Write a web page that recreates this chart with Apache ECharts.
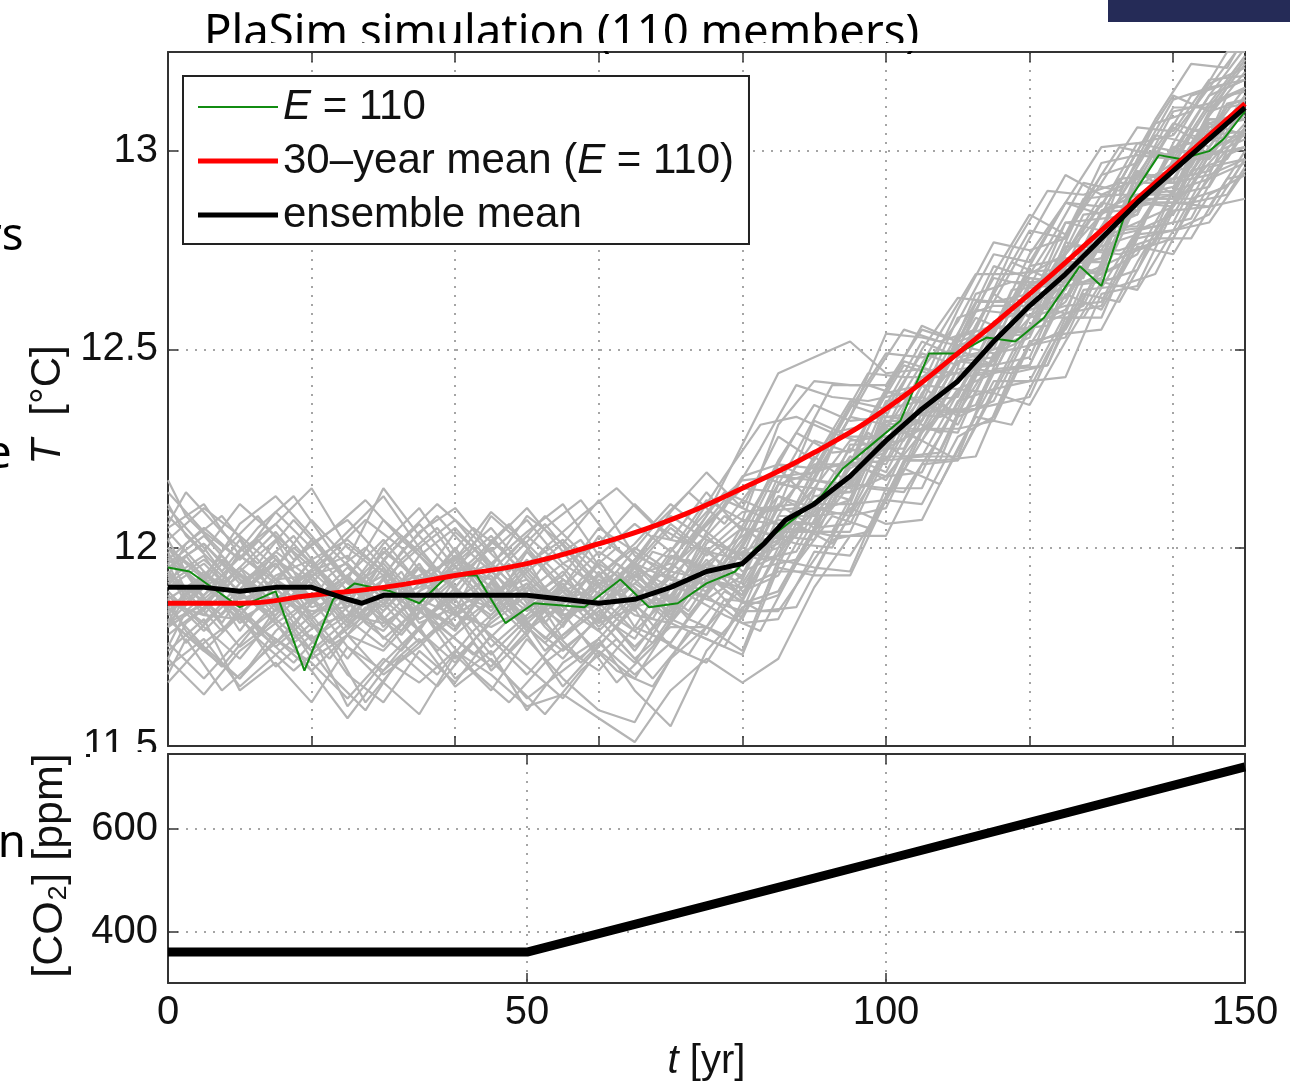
<!DOCTYPE html>
<html>
<head>
<meta charset="utf-8">
<script src="https://cdn.jsdelivr.net/npm/echarts@6/dist/echarts.min.js"></script>
<style>
html, body { margin: 0; padding: 0; background: #fff; }
#chart { width: 1290px; height: 1083px; }
</style>
</head>
<body>
<div id="chart"></div>
<script>
// time axes of the ensemble members (years); the second set is stored half a step shifted
var years = [0, 5, 10, 15, 20, 25, 30, 35, 40, 45, 50, 55, 60, 65, 70, 75, 80, 85, 90, 95, 100, 105, 110, 115, 120, 125, 130, 135, 140, 145, 150];
var yearsB = [0, 2.5, 7.5, 12.5, 17.5, 22.5, 27.5, 32.5, 37.5, 42.5, 47.5, 52.5, 57.5, 62.5, 67.5, 72.5, 77.5, 82.5, 87.5, 92.5, 97.5, 102.5, 107.5, 112.5, 117.5, 122.5, 127.5, 132.5, 137.5, 142.5, 147.5, 150];

// grey ensemble members, T [°C] at `years`
var members = [
  [11.95,12.01,11.92,11.85,11.97,12.02,11.94,11.86,11.98,11.92,11.82,11.90,11.99,11.93,11.87,12.02,11.98,12.01,12.18,12.33,12.31,12.32,12.51,12.53,12.54,12.74,12.89,12.89,12.90,13.09,13.20],
  [11.82,11.74,11.83,11.77,11.69,11.78,11.74,11.84,11.77,11.70,11.81,11.74,11.82,11.72,11.80,11.80,11.90,11.94,11.94,12.11,12.12,12.30,12.30,12.32,12.51,12.55,12.71,12.75,12.78,12.94,12.98],
  [12.08,11.99,12.11,12.03,11.95,12.04,12.13,12.00,12.07,11.96,12.04,12.11,11.98,12.06,11.99,12.09,12.17,12.18,12.19,12.35,12.49,12.48,12.50,12.69,12.84,12.79,12.92,13.06,13.05,13.18,13.19],
  [11.87,11.93,11.79,11.91,11.83,11.92,11.86,11.96,11.83,11.89,11.79,11.90,11.83,11.94,11.83,11.96,11.93,12.13,12.10,12.23,12.19,12.36,12.47,12.48,12.63,12.63,12.79,12.85,13.00,12.99,13.14],
  [11.70,11.77,11.65,11.73,11.81,11.68,11.61,11.74,11.66,11.78,11.70,11.62,11.74,11.67,11.81,11.77,11.73,11.95,11.93,11.93,12.12,12.27,12.22,12.39,12.36,12.52,12.67,12.65,12.80,12.84,12.98],
  [12.00,11.87,11.95,12.04,11.93,11.82,11.97,12.06,11.95,11.85,11.99,11.89,11.81,11.96,12.06,11.99,11.92,12.16,12.15,12.12,12.36,12.52,12.48,12.50,12.71,12.73,12.72,12.94,13.07,13.04,13.16],
  [11.92,11.98,11.85,11.76,11.86,11.93,11.80,11.89,12.00,11.87,11.78,11.92,11.85,11.74,11.86,11.97,11.87,12.08,12.23,12.16,12.15,12.34,12.50,12.46,12.62,12.59,12.81,12.95,12.92,12.94,13.13],
  [12.04,11.94,11.83,11.92,12.01,12.07,11.97,11.87,11.95,12.03,11.92,11.82,11.93,12.01,12.11,12.04,11.97,12.02,12.20,12.36,12.33,12.32,12.52,12.71,12.68,12.67,12.84,13.00,12.99,13.14,13.26],
  [11.78,11.85,11.95,11.82,11.74,11.82,11.92,11.79,11.71,11.82,11.91,11.77,11.85,11.95,11.82,11.78,11.92,12.11,12.05,12.06,12.24,12.41,12.33,12.37,12.55,12.72,12.69,12.74,12.90,13.07,13.04],
  [11.97,12.05,11.97,12.09,12.00,11.89,12.01,12.10,11.97,12.05,11.94,12.01,12.12,11.98,11.94,12.06,12.15,12.14,12.27,12.24,12.40,12.56,12.52,12.55,12.74,12.87,12.86,13.02,13.00,13.14,13.18],
  [11.85,11.75,11.67,11.79,11.87,11.75,11.69,11.80,11.89,11.77,11.68,11.78,11.84,11.75,11.84,11.93,11.86,11.89,12.05,12.21,12.18,12.19,12.37,12.40,12.58,12.61,12.62,12.80,12.84,12.99,13.01],
  [11.90,11.96,11.87,11.99,11.92,11.81,11.92,12.00,11.89,11.83,11.94,11.84,11.96,11.90,11.82,11.99,12.07,12.06,12.06,12.26,12.26,12.45,12.44,12.47,12.66,12.67,12.85,12.87,12.87,13.06,13.10],
  [12.14,12.04,11.97,12.06,12.15,12.00,11.93,12.04,12.10,11.99,12.07,11.96,12.01,12.11,12.02,12.14,12.04,12.22,12.36,12.32,12.33,12.50,12.63,12.62,12.78,12.94,12.89,12.93,13.10,13.12,13.24],
  [11.74,11.82,11.64,11.71,11.61,11.75,11.66,11.58,11.73,11.64,11.77,11.67,11.59,11.56,11.72,11.80,11.74,11.97,11.95,11.94,12.15,12.15,12.34,12.36,12.38,12.58,12.58,12.79,12.80,12.82,12.95],
  [11.93,11.83,11.94,12.02,11.86,11.95,11.87,11.79,11.92,12.00,11.86,11.94,11.82,11.91,12.00,11.90,12.02,12.20,12.11,12.11,12.32,12.32,12.53,12.56,12.55,12.77,12.75,12.91,13.06,13.01,13.13],
  [11.81,11.90,11.84,11.75,11.83,11.89,11.77,11.85,11.72,11.81,11.88,11.75,11.69,11.80,11.76,11.89,11.99,11.97,12.10,12.08,12.10,12.29,12.43,12.44,12.46,12.66,12.67,12.70,12.90,12.93,12.97],
  [12.02,12.10,12.03,11.95,12.07,11.97,12.15,12.03,11.93,12.08,12.00,11.90,12.03,11.96,12.09,12.19,12.10,12.28,12.22,12.37,12.35,12.49,12.46,12.64,12.80,12.78,12.94,12.97,13.13,13.16,13.28],
  [11.88,11.79,11.88,11.96,11.83,11.72,11.84,11.93,11.80,11.87,11.97,11.82,11.88,11.79,11.88,12.00,11.89,11.93,12.09,12.23,12.21,12.37,12.31,12.48,12.67,12.66,12.68,12.87,12.89,13.08,13.08],
  [11.98,11.90,12.02,11.87,11.94,11.98,11.88,11.95,11.84,12.02,11.93,11.84,11.97,11.89,11.84,12.01,12.09,12.10,12.32,12.28,12.28,12.30,12.48,12.64,12.58,12.74,12.87,12.85,13.01,12.98,13.12],
  [11.66,11.76,11.83,11.70,11.78,11.60,11.71,11.80,11.67,11.74,11.59,11.71,11.77,11.64,11.55,11.74,11.84,11.84,11.97,12.10,12.06,12.07,12.25,12.42,12.42,12.43,12.64,12.66,12.85,12.86,12.88],
  [12.05,12.11,11.98,11.91,12.02,11.91,11.85,11.98,12.05,11.95,12.08,12.01,11.91,11.86,11.99,12.12,12.07,12.31,12.42,12.41,12.41,12.55,12.52,12.68,12.66,12.82,12.80,12.96,13.11,13.11,13.23],
  [11.84,11.92,11.81,11.88,11.77,11.83,11.95,11.82,11.87,11.75,11.83,11.91,11.80,11.89,11.81,11.92,11.82,12.00,12.15,12.14,12.31,12.27,12.40,12.39,12.56,12.60,12.78,12.80,12.82,12.99,13.03],
  [11.94,11.84,11.99,12.06,11.96,11.85,12.00,11.91,12.04,11.96,11.87,11.93,12.05,11.99,11.92,11.89,12.04,12.21,12.17,12.16,12.37,12.38,12.58,12.61,12.61,12.82,12.83,12.84,13.02,13.17,13.21],
  [11.76,11.67,11.77,11.86,11.72,11.78,11.68,11.75,11.84,11.69,11.78,11.65,11.75,11.86,11.75,11.71,11.85,11.88,12.04,12.04,12.23,12.23,12.23,12.45,12.46,12.64,12.60,12.76,12.74,12.89,12.94],
  [12.10,12.00,11.88,11.97,11.91,12.01,11.94,11.84,11.97,12.09,12.01,11.92,11.85,11.95,12.05,11.98,12.05,12.03,12.02,12.21,12.39,12.41,12.60,12.77,12.75,12.78,12.97,12.99,12.98,13.12,13.16],
  [11.89,11.80,11.72,11.83,11.93,11.82,11.75,11.86,11.79,11.91,11.80,11.72,11.83,11.77,11.91,11.87,11.84,12.05,12.04,12.22,12.17,12.32,12.47,12.46,12.48,12.68,12.70,12.89,12.89,12.91,13.06],
  [12.00,11.92,12.06,12.13,12.03,11.92,12.07,11.99,11.90,12.01,12.10,11.99,11.88,11.97,12.08,12.02,11.98,12.18,12.17,12.33,12.54,12.53,12.51,12.54,12.71,12.87,12.84,13.00,13.14,13.10,13.22],
  [11.72,11.63,11.74,11.81,11.69,11.57,11.69,11.77,11.65,11.72,11.62,11.69,11.76,11.68,11.76,11.88,11.81,11.82,11.99,11.98,12.12,12.11,12.28,12.33,12.52,12.54,12.55,12.72,12.87,12.86,13.00],
  [11.96,12.03,11.93,11.86,11.97,11.86,11.99,11.92,11.83,11.94,12.03,11.95,11.85,11.93,11.86,12.04,12.18,12.21,12.20,12.21,12.22,12.23,12.39,12.56,12.54,12.71,12.73,12.94,12.93,13.07,13.10],
  [11.80,11.86,11.75,11.82,11.91,11.78,11.86,11.76,11.84,11.73,11.82,11.88,11.79,11.71,11.85,11.93,11.88,12.08,12.08,12.09,12.30,12.30,12.29,12.49,12.51,12.53,12.72,12.87,12.86,13.00,13.05],
  [11.95,12.01,11.91,11.98,11.86,11.93,12.02,11.91,11.98,11.86,11.96,12.02,11.93,12.00,11.94,12.08,12.26,12.44,12.48,12.52,12.44,12.45,12.57,12.74,12.72,12.87,13.01,13.02,13.04,13.16,13.18],
  [11.82,11.74,11.67,11.77,11.71,11.62,11.72,11.66,11.74,11.68,11.60,11.63,11.57,11.51,11.64,11.72,11.66,11.72,11.90,12.03,12.03,12.21,12.22,12.40,12.42,12.59,12.61,12.78,12.80,12.96,12.98],
  [11.94,11.86,11.95,11.88,11.82,11.89,11.96,11.86,11.80,11.91,11.84,11.92,11.85,11.95,11.90,11.88,11.99,12.03,12.17,12.15,12.33,12.34,12.35,12.54,12.68,12.66,12.81,12.81,12.95,13.08,13.08],
  [11.85,11.91,11.83,11.93,11.97,11.84,11.79,11.89,11.94,11.84,11.95,11.85,11.79,11.88,11.95,12.03,11.94,11.98,12.11,12.25,12.22,12.39,12.51,12.49,12.53,12.72,12.72,12.88,12.88,13.01,13.14],
  [11.91,11.97,11.89,11.81,11.87,11.93,11.84,11.95,11.90,11.82,11.89,11.96,11.90,11.83,11.81,11.96,12.03,12.07,12.06,12.17,12.32,12.27,12.43,12.62,12.64,12.65,12.85,12.89,12.91,13.04,13.05],
  [11.81,11.86,11.93,11.84,11.91,11.80,11.89,11.84,11.92,11.96,11.87,11.81,11.92,11.86,11.93,11.87,11.93,12.10,12.21,12.21,12.24,12.41,12.40,12.44,12.61,12.76,12.76,12.79,12.98,12.98,13.11],
  [11.97,11.90,11.85,11.92,11.86,11.92,11.82,11.91,11.87,11.93,11.81,11.89,11.93,11.84,11.98,11.95,11.91,12.05,12.15,12.27,12.28,12.32,12.47,12.50,12.54,12.70,12.69,12.92,12.92,13.10,13.13],
  [11.88,11.81,11.91,11.96,11.85,11.88,11.93,11.81,11.85,11.89,11.92,11.83,11.86,11.91,11.85,11.99,11.97,12.00,12.09,12.12,12.35,12.37,12.38,12.57,12.60,12.63,12.80,12.84,13.01,13.03,13.04],
  [12.00,11.93,11.88,11.83,11.94,11.86,11.90,11.93,11.97,11.86,11.91,11.82,11.88,11.96,11.92,11.91,12.02,12.13,12.08,12.20,12.25,12.30,12.45,12.46,12.66,12.71,12.73,12.95,12.89,13.05,13.09],
  [11.83,11.94,11.87,11.90,11.80,11.83,11.81,11.87,11.83,11.80,11.85,11.90,11.81,11.85,11.88,11.96,11.88,12.02,12.13,12.14,12.18,12.29,12.39,12.53,12.55,12.62,12.78,12.82,12.86,12.97,13.07],
  [11.92,11.88,11.98,11.92,11.93,11.96,11.87,11.90,11.95,11.92,11.79,11.86,11.91,11.93,11.96,11.90,12.00,12.16,12.19,12.22,12.30,12.43,12.49,12.56,12.69,12.74,12.84,12.91,12.97,13.11,13.16],
  [11.86,11.83,11.82,11.87,11.84,11.85,11.92,11.82,11.88,11.85,11.90,11.80,11.94,11.80,11.94,11.92,11.90,12.04,12.04,12.16,12.26,12.38,12.34,12.48,12.58,12.67,12.71,12.87,12.93,12.95,13.06]
];

// more grey members, T [°C] at `yearsB`
var membersB = [
  [12.02,11.94,11.81,11.95,12.03,11.91,11.82,11.97,12.05,11.93,11.84,11.96,12.02,11.89,11.82,11.98,12.08,12.02,12.03,12.25,12.41,12.38,12.35,12.56,12.72,12.68,12.68,12.92,12.92,12.94,13.14,13.15],
  [11.75,11.84,11.92,11.79,11.71,11.81,11.89,11.76,11.68,11.79,11.87,11.74,11.82,11.91,11.78,11.73,11.87,11.86,12.05,12.03,12.03,12.22,12.22,12.44,12.45,12.46,12.67,12.68,12.88,12.88,12.91,12.98],
  [11.93,12.01,12.08,11.97,11.87,11.98,12.07,12.00,11.89,11.97,12.06,11.94,11.84,11.94,12.05,12.14,12.06,12.18,12.15,12.29,12.26,12.27,12.46,12.62,12.62,12.76,12.92,12.90,13.04,13.02,13.16,13.18],
  [11.84,11.76,11.85,11.94,11.81,11.72,11.84,11.94,11.79,11.86,11.96,11.81,11.72,11.82,11.92,11.82,11.78,11.95,11.97,12.13,12.29,12.23,12.24,12.43,12.60,12.57,12.61,12.80,12.81,12.83,13.00,13.01],
  [12.11,12.03,11.94,12.05,12.13,12.00,11.91,12.02,12.11,12.03,11.94,12.05,12.12,12.00,11.92,12.02,12.14,12.10,12.11,12.28,12.44,12.43,12.43,12.64,12.67,12.67,12.87,13.01,12.99,13.14,13.17,13.23],
  [11.68,11.77,11.64,11.72,11.80,11.68,11.59,11.73,11.65,11.76,11.67,11.58,11.69,11.77,11.67,11.78,11.89,11.84,11.85,12.02,12.04,12.22,12.22,12.23,12.44,12.46,12.65,12.66,12.69,12.87,12.89,12.96],
  [11.90,11.98,11.86,11.78,11.91,11.98,11.86,11.79,11.92,12.00,11.89,11.81,11.92,12.00,11.91,11.84,11.98,12.13,12.29,12.24,12.25,12.25,12.43,12.58,12.54,12.70,12.69,12.84,13.00,12.97,13.11,13.12],
  [11.99,11.89,11.79,11.90,12.00,11.92,11.81,11.74,11.85,11.95,11.84,11.76,11.85,11.96,11.88,11.97,11.90,12.04,12.01,12.00,12.17,12.33,12.29,12.44,12.63,12.60,12.75,12.74,12.77,12.95,13.07,13.08],
  [11.80,11.88,11.98,11.86,11.76,11.83,11.93,11.84,11.74,11.82,11.92,11.80,11.71,11.80,11.90,11.83,11.94,12.08,12.04,12.04,12.21,12.39,12.34,12.35,12.53,12.69,12.67,12.71,12.88,13.04,13.02,13.04],
  [12.06,12.14,12.04,11.96,12.07,11.97,11.86,11.99,12.08,11.98,11.90,12.00,12.08,12.15,12.06,12.01,12.10,12.25,12.41,12.38,12.37,12.39,12.54,12.69,12.69,12.70,12.88,12.89,13.07,13.10,13.25,13.25],
  [11.87,11.79,11.70,11.81,11.88,11.76,11.83,11.91,11.81,11.73,11.82,11.89,11.78,11.69,11.65,11.79,11.75,11.91,12.06,12.01,12.15,12.14,12.28,12.45,12.44,12.58,12.58,12.73,12.87,12.87,12.99,13.01],
  [11.96,11.87,11.93,12.02,11.92,11.83,11.94,12.03,11.93,11.86,11.97,12.06,11.95,11.86,11.99,11.96,11.92,12.09,12.10,12.10,12.32,12.47,12.44,12.60,12.59,12.61,12.80,12.93,12.94,12.96,13.12,13.13],
  [11.72,11.81,11.88,11.77,11.69,11.77,11.61,11.72,11.80,11.69,11.61,11.71,11.78,11.66,11.75,11.88,11.83,11.79,11.96,12.08,12.05,12.20,12.16,12.33,12.31,12.49,12.64,12.62,12.78,12.78,12.93,12.94],
  [12.17,12.08,11.99,12.08,11.97,12.04,12.12,12.02,11.94,12.05,11.98,12.08,11.99,11.91,12.03,12.01,12.12,12.08,12.24,12.41,12.41,12.55,12.52,12.55,12.75,12.90,12.89,12.92,13.08,13.22,13.21,13.29],
  [11.81,11.90,11.83,11.93,11.86,11.76,11.85,11.78,11.89,11.82,11.74,11.84,11.90,11.82,11.76,11.89,12.00,11.97,11.99,12.15,12.16,12.34,12.33,12.36,12.55,12.56,12.75,12.75,12.78,12.95,12.98,13.05],
  [11.94,11.86,11.97,11.90,11.80,11.93,12.00,11.90,11.82,11.94,11.86,11.77,11.87,11.94,11.86,12.04,12.18,12.31,12.33,12.29,12.31,12.46,12.43,12.45,12.65,12.66,12.84,12.85,12.87,13.05,13.07,13.14]
];

// single member E = 110 (green)
var greenYears = [0, 3, 10, 15, 19, 23, 26, 31, 35, 39, 43, 47, 51, 58, 63, 67, 71, 75, 79, 82, 87, 91, 94, 98, 102, 106, 110, 114, 118, 122, 127, 130, 134, 138, 141, 145, 147, 150];
var greenTemp = [11.95, 11.94, 11.85, 11.89, 11.69, 11.87, 11.91, 11.89, 11.86, 11.93, 11.93, 11.81, 11.86, 11.85, 11.92, 11.85, 11.86, 11.91, 11.94, 12.00, 12.07, 12.13, 12.20, 12.26, 12.32, 12.49, 12.49, 12.53, 12.52, 12.58, 12.71, 12.66, 12.88, 12.99, 12.98, 13.00, 13.03, 13.10];

// 30-year mean of that member (red)
var redYears = [0, 10, 20, 30, 40, 50, 60, 70, 80, 90, 100, 110, 120, 130, 140, 150];
var redTemp = [11.86, 11.86, 11.88, 11.90, 11.93, 11.96, 12.01, 12.07, 12.15, 12.24, 12.35, 12.49, 12.64, 12.80, 12.96, 13.12];

// ensemble mean (black)
var meanYears = [0, 5, 10, 15, 20, 25, 27, 30, 35, 40, 45, 50, 55, 60, 65, 70, 75, 80, 83, 86, 90, 95, 100, 105, 110, 115, 120, 125, 130, 135, 140, 145, 150];
var meanTemp = [11.90, 11.90, 11.89, 11.90, 11.90, 11.87, 11.86, 11.88, 11.88, 11.88, 11.88, 11.88, 11.87, 11.86, 11.87, 11.90, 11.94, 11.96, 12.01, 12.07, 12.11, 12.18, 12.27, 12.35, 12.42, 12.52, 12.61, 12.69, 12.78, 12.87, 12.95, 13.03, 13.11];

// CO2 forcing
var co2Years = [0, 10, 20, 30, 40, 50, 60, 70, 80, 90, 100, 110, 120, 130, 140, 150];
var co2 = [360, 360, 360, 360, 360, 360, 396, 432, 468, 504, 540, 576, 612, 648, 684, 720];

var co2Ticks = [400, 600];

function pairs(xs, ys) {
  var out = [];
  for (var i = 0; i < xs.length; i++) out.push([xs[i], ys[i]]);
  return out;
}

var font = '"Liberation Sans", Arial, sans-serif';
var slideFont = '45.5px "Noto Sans"';
var axisColor = '#333';
var dots = { color: '#888', width: 1.5, type: [2, 7] };

function boxAxis(o) {
  var a = {
    type: 'value',
    axisLine: { show: true, onZero: false, lineStyle: { color: axisColor, width: 2 } },
    axisTick: { show: true, inside: true, length: 10, lineStyle: { color: axisColor, width: 1.5 } },
    axisLabel: { show: false },
    splitLine: { show: false }
  };
  for (var k in o) a[k] = o[k];
  return a;
}

var label = { show: true, fontSize: 40, fontFamily: font, color: '#111', margin: 10 };

var series = [];
function addGrey(xs, list) {
  for (var m = 0; m < list.length; m++) {
    series.push({
      name: 'member', type: 'line', xAxisIndex: 0, yAxisIndex: 0,
      data: pairs(xs, list[m]), symbol: 'none', silent: true, z: 2,
      lineStyle: { color: '#b4b4b4', width: 2.2 }
    });
  }
}
addGrey(years, members);
addGrey(yearsB, membersB);

series.push({
  name: 'E = 110', type: 'line', xAxisIndex: 0, yAxisIndex: 0,
  data: pairs(greenYears, greenTemp), symbol: 'none', z: 3,
  lineStyle: { color: '#118c11', width: 2 }, itemStyle: { color: '#118c11' }
});
series.push({
  name: '30–year mean (E = 110)', type: 'line', xAxisIndex: 0, yAxisIndex: 0,
  data: pairs(redYears, redTemp), symbol: 'none', smooth: true, z: 4,
  lineStyle: { color: '#ff0000', width: 5 }, itemStyle: { color: '#ff0000' }
});
series.push({
  name: 'ensemble mean', type: 'line', xAxisIndex: 0, yAxisIndex: 0,
  data: pairs(meanYears, meanTemp), symbol: 'none', z: 5,
  lineStyle: { color: '#000', width: 5 }, itemStyle: { color: '#000' }
});
series.push({
  name: 'CO2', type: 'line', xAxisIndex: 2, yAxisIndex: 2,
  data: pairs(co2Years, co2), symbol: 'none', z: 3,
  lineStyle: { color: '#000', width: 9 }
});

var thinIcon = 'path://M0,0M80,14M0,6H80V8H0Z';
var thickIcon = 'path://M0,0M80,14M0,4.5H80V9.5H0Z';

var chart = echarts.init(document.getElementById('chart'));
chart.setOption({
  animation: false,
  backgroundColor: '#fff',
  grid: [
    { left: 168, top: 52, width: 1077, height: 694 },
    { left: 168, top: 754, width: 1077, height: 231 }
  ],
  legend: {
    orient: 'vertical', left: 183, top: 76, z: 10,
    padding: [10, 15, 8, 15], itemGap: 12, itemWidth: 80, itemHeight: 14,
    backgroundColor: '#fff', borderColor: '#222', borderWidth: 2,
    itemStyle: { borderWidth: 0 },
    data: [
      { name: 'E = 110', icon: thinIcon },
      { name: '30–year mean (E = 110)', icon: thickIcon },
      { name: 'ensemble mean', icon: thickIcon }
    ],
    formatter: function (name) {
      if (name === 'E = 110') return '{i|E} = 110';
      if (name === '30–year mean (E = 110)') return '30–year mean ({i|E} = 110)';
      return name;
    },
    textStyle: {
      fontSize: 42, lineHeight: 40, fontFamily: font, color: '#111',
      rich: { i: { fontStyle: 'italic', fontSize: 42, lineHeight: 40, fontFamily: font, color: '#111' } }
    }
  },
  xAxis: [
    boxAxis({ gridIndex: 0, position: 'bottom', min: 0, max: 150, interval: 20,
      splitLine: { show: true, lineStyle: dots } }),
    boxAxis({ gridIndex: 0, position: 'top', min: 0, max: 150, interval: 20 }),
    boxAxis({ gridIndex: 1, position: 'bottom', min: 0, max: 150, interval: 50,
      axisLabel: label, splitLine: { show: true, lineStyle: dots },
      name: '{i|t} [yr]', nameLocation: 'middle', nameGap: 59,
      nameTextStyle: { fontSize: 40, fontFamily: font, color: '#111',
        rich: { i: { fontStyle: 'italic', fontSize: 40, fontFamily: font, color: '#111' } } } }),
    boxAxis({ gridIndex: 1, position: 'top', min: 0, max: 150, interval: 50 })
  ],
  yAxis: [
    boxAxis({ gridIndex: 0, position: 'left', min: 11.5, max: 13.25, interval: 0.5,
      axisLabel: { show: true, fontSize: 40, fontFamily: font, color: '#111', margin: 10, showMaxLabel: false },
      splitLine: { show: true, lineStyle: dots },
      name: '{i|T}  [°C]', nameLocation: 'middle', nameGap: 82, nameRotate: 90,
      nameTextStyle: { fontSize: 42, fontFamily: font, color: '#111', padding: [0, 12, 0, 0],
        rich: { i: { fontStyle: 'italic', fontSize: 42, fontFamily: font, color: '#111' } } } }),
    boxAxis({ gridIndex: 0, position: 'right', min: 11.5, max: 13.25, interval: 0.5 }),
    boxAxis({ gridIndex: 1, position: 'left', min: 300, max: 745, z: 3,
      axisTick: { show: true, inside: true, length: 10, customValues: co2Ticks, lineStyle: { color: axisColor, width: 1.5 } },
      axisLabel: { show: true, fontSize: 40, fontFamily: font, color: '#111', margin: 10, customValues: co2Ticks },
      splitLine: { show: true, lineStyle: dots },
      name: '[CO₂] [ppm]', nameLocation: 'middle', nameGap: 96, nameRotate: 90,
      nameTextStyle: { fontSize: 43, fontFamily: font, color: '#111', padding: [0, 10, 0, 16] } }),
    boxAxis({ gridIndex: 1, position: 'right', min: 300, max: 745,
      axisTick: { show: true, inside: true, length: 10, customValues: co2Ticks, lineStyle: { color: axisColor, width: 1.5 } } })
  ],
  graphic: { elements: [
    { type: 'text', left: 204, top: 11, z: 1,
      style: { text: 'PlaSim simulation (110 members)', font: slideFont, fill: '#000' } },
    { type: 'rect', left: 180, top: 43, z: 2, shape: { width: 760, height: 8 }, style: { fill: '#fff' } },
    { type: 'rect', left: 1108, top: 0, z: 2, shape: { width: 182, height: 22 }, style: { fill: '#252b57' } },
    { type: 'text', left: -17, top: 214, style: { text: 'rs', font: slideFont, fill: '#000' } },
    { type: 'text', left: -14, top: 432, style: { text: 'e', font: slideFont, fill: '#000' } },
    { type: 'text', left: -28, top: 821, style: { text: 'en', font: slideFont, fill: '#000' } },
    { type: 'rect', left: 90, top: 752, z: 100, shape: { width: 76, height: 30 }, style: { fill: '#fff' } }
  ] },
  series: series
});
</script>
</body>
</html>
